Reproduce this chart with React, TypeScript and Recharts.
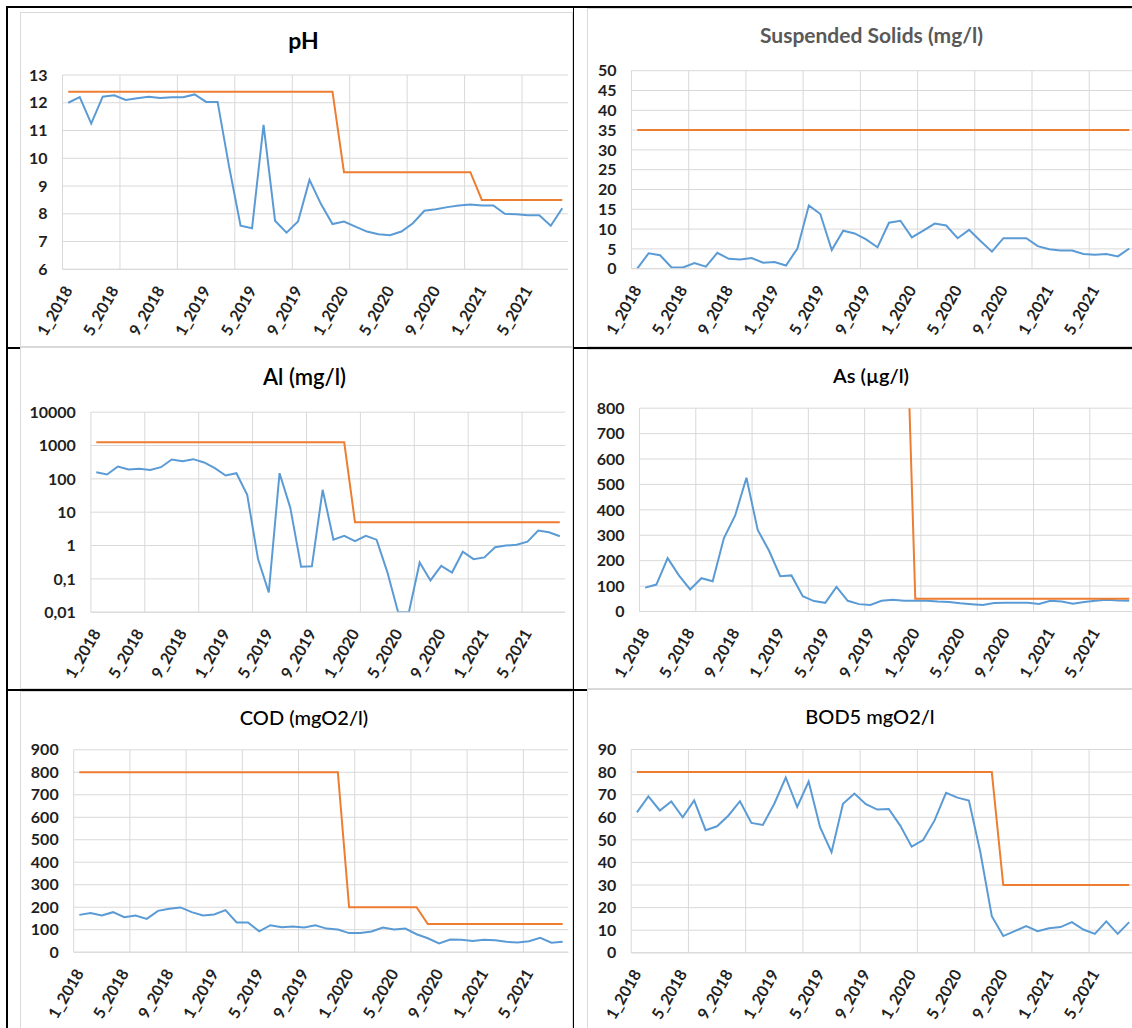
import React from 'react';
import { LineChart, Line, XAxis, YAxis, CartesianGrid, ReferenceLine } from 'recharts';

const months = [
  '1_2018', '2_2018', '3_2018', '4_2018', '5_2018', '6_2018', '7_2018', '8_2018', '9_2018', '10_2018', '11_2018', '12_2018',
  '1_2019', '2_2019', '3_2019', '4_2019', '5_2019', '6_2019', '7_2019', '8_2019', '9_2019', '10_2019', '11_2019', '12_2019',
  '1_2020', '2_2020', '3_2020', '4_2020', '5_2020', '6_2020', '7_2020', '8_2020', '9_2020', '10_2020', '11_2020', '12_2020',
  '1_2021', '2_2021', '3_2021', '4_2021', '5_2021', '6_2021', '7_2021', '8_2021',
];

// vertical gridlines sit at the start of these categories
const gridMonths = ['1_2018', '6_2018', '11_2018', '4_2019', '9_2019', '2_2020', '7_2020', '12_2020', '5_2021'];

const phValues = [12.0, 12.2, 11.25, 12.22, 12.27, 12.1, 12.16, 12.22, 12.17, 12.2, 12.2, 12.3, 12.03, 12.03, 9.7, 7.57, 7.48, 11.2, 7.75, 7.32, 7.72, 9.22, 8.35, 7.63, 7.72, 7.54, 7.36, 7.26, 7.23, 7.36, 7.66, 8.11, 8.16, 8.24, 8.3, 8.33, 8.3, 8.3, 8.0, 7.98, 7.95, 7.95, 7.57, 8.2];
const phLimit = [12.4, 12.4, 12.4, 12.4, 12.4, 12.4, 12.4, 12.4, 12.4, 12.4, 12.4, 12.4, 12.4, 12.4, 12.4, 12.4, 12.4, 12.4, 12.4, 12.4, 12.4, 12.4, 12.4, 12.4, 9.5, 9.5, 9.5, 9.5, 9.5, 9.5, 9.5, 9.5, 9.5, 9.5, 9.5, 9.5, 8.5, 8.5, 8.5, 8.5, 8.5, 8.5, 8.5, 8.5];
const phTicks = [6, 7, 8, 9, 10, 11, 12, 13];

const ssValues = [0, 3.9, 3.4, 0.3, 0.3, 1.4, 0.5, 4.0, 2.5, 2.3, 2.7, 1.5, 1.7, 0.8, 5.1, 16.0, 13.8, 4.7, 9.6, 8.9, 7.4, 5.4, 11.6, 12.1, 7.9, 9.6, 11.4, 10.9, 7.7, 9.8, 7.0, 4.3, 7.7, 7.7, 7.7, 5.7, 4.9, 4.6, 4.6, 3.7, 3.5, 3.7, 3.1, 5.1];
const ssLimit = [35, 35, 35, 35, 35, 35, 35, 35, 35, 35, 35, 35, 35, 35, 35, 35, 35, 35, 35, 35, 35, 35, 35, 35, 35, 35, 35, 35, 35, 35, 35, 35, 35, 35, 35, 35, 35, 35, 35, 35, 35, 35, 35, 35];
const ssTicks = [0, 5, 10, 15, 20, 25, 30, 35, 40, 45, 50];

const alValues = [158, 135, 234, 190, 200, 186, 224, 380, 340, 390, 310, 210, 126, 148, 33, 0.4, 0.039, 148, 13.5, 0.23, 0.24, 47, 1.5, 1.95, 1.35, 1.95, 1.5, 0.16, 0.01, 0.01, 0.31, 0.09, 0.245, 0.155, 0.65, 0.39, 0.44, 0.89, 1.0, 1.05, 1.3, 2.8, 2.5, 1.9];
const alLimit = [1250, 1250, 1250, 1250, 1250, 1250, 1250, 1250, 1250, 1250, 1250, 1250, 1250, 1250, 1250, 1250, 1250, 1250, 1250, 1250, 1250, 1250, 1250, 1250, 5, 5, 5, 5, 5, 5, 5, 5, 5, 5, 5, 5, 5, 5, 5, 5, 5, 5, 5, 5];
const alTicks = [0.01, 0.1, 1, 10, 100, 1000, 10000];
const alTickLabels = ['0,01', '0,1', '1', '10', '100', '1000', '10000'];

const asValues = [94, 106, 210, 142, 87, 131, 119, 289, 378, 526, 321, 240, 139, 142, 60, 41, 34, 97, 42, 29, 26, 42, 46, 42, 42, 42, 39, 37, 32, 29, 26, 33, 34, 34, 34, 30, 42, 39, 31, 37, 42, 46, 43, 42];
const asLimit = [1500, 1500, 1500, 1500, 1500, 1500, 1500, 1500, 1500, 1500, 1500, 1500, 1500, 1500, 1500, 1500, 1500, 1500, 1500, 1500, 1500, 1500, 1500, 1500, 50, 50, 50, 50, 50, 50, 50, 50, 50, 50, 50, 50, 50, 50, 50, 50, 50, 50, 50, 50];
const asTicks = [0, 100, 200, 300, 400, 500, 600, 700, 800];

const codValues = [166, 174, 163, 178, 156, 163, 148, 184, 193, 199, 178, 163, 168, 187, 132, 132, 93, 120, 111, 114, 110, 120, 105, 101, 85, 85, 92, 110, 101, 105, 80, 62, 39, 56, 55, 50, 55, 53, 46, 43, 49, 64, 42, 47];
const codLimit = [800, 800, 800, 800, 800, 800, 800, 800, 800, 800, 800, 800, 800, 800, 800, 800, 800, 800, 800, 800, 800, 800, 800, 800, 200, 200, 200, 200, 200, 200, 200, 125, 125, 125, 125, 125, 125, 125, 125, 125, 125, 125, 125, 125];
const codTicks = [0, 100, 200, 300, 400, 500, 600, 700, 800, 900];

const bodValues = [62.2, 69.2, 63, 67, 60, 67.5, 54.3, 56, 60.8, 67.1, 57.5, 56.6, 66, 77.6, 64.6, 75.8, 55.6, 44.5, 66, 70.5, 65.8, 63.4, 63.7, 56.3, 47, 49.9, 58.6, 70.8, 68.7, 67.4, 44.5, 16.2, 7.4, 9.6, 11.8, 9.6, 10.9, 11.4, 13.6, 10.3, 8.4, 13.9, 8.4, 13.6];
const bodLimit = [80, 80, 80, 80, 80, 80, 80, 80, 80, 80, 80, 80, 80, 80, 80, 80, 80, 80, 80, 80, 80, 80, 80, 80, 80, 80, 80, 80, 80, 80, 80, 80, 30, 30, 30, 30, 30, 30, 30, 30, 30, 30, 30, 30];
const bodTicks = [0, 10, 20, 30, 40, 50, 60, 70, 80, 90];

const BLUE = '#5b9bd5';
const ORANGE = '#ed7d31';
const GRID = '#d9d9d9';
const FONT = 'Lato, "Open Sans", sans-serif';
const TICK_COLOR = '#1f1f1f';

const buildRows = (values: number[], limit: number[]) =>
  months.map((m, i) => ({ month: m, value: values[i], limit: limit[i] }));

const XTick = (props: any) => {
  const { x, y, payload } = props;
  const ax = x + 5;
  const ay = y + 21;
  return (
    <text x={ax} y={ay} textAnchor="end" transform={`rotate(-60 ${ax} ${ay})`}
      fontSize={16} fontWeight={700} fill={TICK_COLOR} fontFamily={FONT}>
      {payload.value}
    </text>
  );
};

type Cfg = {
  title: string;
  titleSize: number;
  titleWeight: number;
  titleColor: string;
  titleCx: number;
  titleCy: number;
  panel: { x: number; y: number; w: number; h: number };
  plot: { l: number; r: number; t: number; b: number };
  values: number[];
  limit: number[];
  ticks: number[];
  log?: boolean;
  tickLabels?: string[];
};

const charts: Cfg[] = [
  {
    title: 'pH', titleSize: 23, titleWeight: 700, titleColor: '#000', titleCx: 303.5, titleCy: 41,
    panel: { x: 20, y: 12, w: 553, h: 335 }, plot: { l: 62.5, r: 568, t: 75, b: 269.3 },
    values: phValues, limit: phLimit, ticks: phTicks,
  },
  {
    title: 'Suspended Solids (mg/l)', titleSize: 21, titleWeight: 700, titleColor: '#595959', titleCx: 871.5, titleCy: 35,
    panel: { x: 587, y: 8, w: 560, h: 338.5 }, plot: { l: 631.5, r: 1135, t: 70.7, b: 268.7 },
    values: ssValues, limit: ssLimit, ticks: ssTicks,
  },
  {
    title: 'Al (mg/l)', titleSize: 22, titleWeight: 600, titleColor: '#000', titleCx: 304.5, titleCy: 377.5,
    panel: { x: 20, y: 346.5, w: 553, h: 342 }, plot: { l: 90.9, r: 565.2, t: 411.7, b: 611.7 },
    values: alValues, limit: alLimit, ticks: alTicks, log: true, tickLabels: alTickLabels,
  },
  {
    title: 'As (µg/l)', titleSize: 20, titleWeight: 600, titleColor: '#000', titleCx: 871, titleCy: 376,
    panel: { x: 587, y: 348.5, w: 560, h: 340 }, plot: { l: 639.5, r: 1134.8, t: 407.7, b: 611 },
    values: asValues, limit: asLimit, ticks: asTicks,
  },
  {
    title: 'COD (mgO2/l)', titleSize: 20, titleWeight: 500, titleColor: '#000', titleCx: 304, titleCy: 718,
    panel: { x: 20, y: 690.5, w: 553, h: 338 }, plot: { l: 73.7, r: 568.3, t: 749.3, b: 951.7 },
    values: codValues, limit: codLimit, ticks: codTicks,
  },
  {
    title: 'BOD5 mgO2/l', titleSize: 20, titleWeight: 500, titleColor: '#000', titleCx: 870, titleCy: 716.7,
    panel: { x: 587, y: 688.5, w: 560, h: 340 }, plot: { l: 631.2, r: 1134.9, t: 749, b: 952.3 },
    values: bodValues, limit: bodLimit, ticks: bodTicks,
  },
];

function ChartPanel({ cfg }: { cfg: Cfg }) {
  const { panel, plot } = cfg;
  const data = buildRows(cfg.values, cfg.limit);
  const margin = { top: plot.t - panel.y, right: panel.x + panel.w - plot.r, left: 0, bottom: 0 };
  const yWidth = plot.l - panel.x;
  const xHeight = panel.y + panel.h - plot.b;
  const domain: [number, number] = [cfg.ticks[0], cfg.ticks[cfg.ticks.length - 1]];
  const fmt = (v: number) => {
    if (!cfg.tickLabels) return String(v);
    const idx = cfg.ticks.indexOf(v);
    return idx >= 0 ? cfg.tickLabels[idx] : String(v);
  };
  return (
    <div style={{ position: 'absolute', left: panel.x, top: panel.y, width: panel.w, height: panel.h, background: '#fff' }}>
      <LineChart width={panel.w} height={panel.h} data={data} margin={margin}>
        <CartesianGrid vertical={false} stroke={GRID} strokeWidth={1} />
        <XAxis
          dataKey="month"
          scale="band"
          interval={3}
          height={xHeight}
          tickLine={false}
          tickSize={0}
          tickMargin={0}
          axisLine={{ stroke: GRID, strokeWidth: 1 }}
          tick={<XTick />}
        />
        <YAxis
          width={yWidth}
          scale={cfg.log ? 'log' : 'linear'}
          domain={domain}
          ticks={cfg.ticks}
          allowDataOverflow
          interval={0}
          tickLine={false}
          axisLine={false}
          tickSize={0}
          tickMargin={15}
          tickFormatter={fmt}
          tick={{ fontSize: 16, fontWeight: 700, fill: TICK_COLOR, fontFamily: FONT }}
        />
        {gridMonths.map((m) => (
          <ReferenceLine key={m} x={m} position="start" stroke={GRID} strokeWidth={1} />
        ))}
        <Line type="linear" dataKey="value" stroke={BLUE} strokeWidth={2} dot={false} activeDot={false} isAnimationActive={false} />
        <Line type="linear" dataKey="limit" stroke={ORANGE} strokeWidth={2} dot={false} activeDot={false} isAnimationActive={false} />
      </LineChart>
      <div style={{ position: 'absolute', left: 0, top: 0, width: panel.w, height: panel.h, border: `1px solid ${GRID}`, boxSizing: 'border-box', pointerEvents: 'none' }} />
      <div
        style={{
          position: 'absolute',
          left: cfg.titleCx - panel.x - 250,
          width: 500,
          top: cfg.titleCy - panel.y - 0.53 * cfg.titleSize,
          textAlign: 'center',
          fontFamily: FONT,
          fontSize: cfg.titleSize,
          lineHeight: `${cfg.titleSize}px`,
          fontWeight: cfg.titleWeight,
          color: cfg.titleColor,
          whiteSpace: 'nowrap',
        }}
      >
        {cfg.title}
      </div>
    </div>
  );
}

export default function App() {
  const line = (s: React.CSSProperties) => <div style={{ position: 'absolute', background: '#000', ...s }} />;
  return (
    <div style={{ position: 'absolute', left: 0, top: 0, width: 1132, height: 1028, background: '#fff', overflow: 'hidden', fontFamily: FONT }}>
      {line({ left: 6, top: 6, width: 1126, height: 2 })}
      {line({ left: 6, top: 6, width: 2, height: 1022 })}
      {line({ left: 572.5, top: 6, width: 1.5, height: 1022 })}
      {line({ left: 6, top: 346.5, width: 1126, height: 2 })}
      {line({ left: 6, top: 688.5, width: 1126, height: 2 })}
      {charts.map((c) => (
        <ChartPanel key={c.title} cfg={c} />
      ))}
      {line({ left: 572.5, top: 6, width: 1.5, height: 1022 })}
    </div>
  );
}
